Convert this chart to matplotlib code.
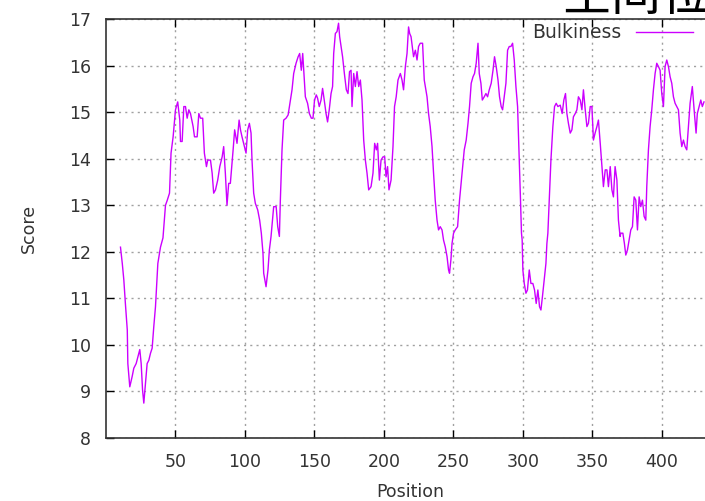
import matplotlib
matplotlib.use("Agg")
from matplotlib import pyplot as plt

plt.rcParams['font.family'] = ['DejaVu Sans', 'Noto Sans CJK SC']

# Bulkiness profile (position, score)
position = [10.4, 11.7, 12.8, 14.0, 15.3, 15.7, 17.1, 18.8, 20.0, 21.7,
            23.6, 24.3, 25.3, 26.3, 27.2, 28.4, 29.6, 30.8, 32.0, 33.2,
            34.4, 35.6, 37.3, 39.2, 41.0, 42.8, 44.0, 45.7, 46.8, 48.3,
            50.0, 51.6, 53.1, 53.6, 54.8, 56.0, 57.2, 58.4, 59.6, 60.8,
            62.7, 63.7, 65.6, 66.8, 68.0, 69.6, 70.8, 72.3, 73.2, 75.2,
            76.4, 77.5, 78.8, 80.4, 81.9, 83.6, 84.7, 85.9, 87.1, 88.3,
            89.5, 91.5, 92.6, 94.3, 95.8, 96.8, 97.9, 99.6, 100.8, 102.0,
            103.2, 104.4, 105.1, 106.3, 107.5, 109.2, 110.6, 111.8, 113.0, 113.5,
            115.2, 116.6, 117.6, 118.8, 120.7, 122.5, 123.6, 124.8, 125.5, 126.7,
            127.9, 129.6, 131.1, 132.2, 133.9, 135.1, 136.8, 138.3, 139.4, 140.6,
            141.6, 142.8, 143.5, 145.1, 146.4, 147.8, 149.0, 150.1, 151.4, 152.3,
            153.5, 154.8, 155.9, 157.1, 158.4, 159.5, 160.7, 162.0, 163.1, 163.9,
            165.1, 166.3, 167.4, 168.2, 169.2, 170.3, 171.6, 173.0, 174.2, 175.3,
            176.4, 177.1, 178.3, 179.5, 180.7, 181.9, 183.1, 184.3, 185.5, 186.7,
            187.9, 189.1, 190.8, 192.2, 193.4, 194.6, 195.5, 196.8, 198.0, 199.4,
            200.6, 201.6, 202.7, 203.7, 205.2, 206.6, 207.7, 208.9, 210.2, 211.9,
            213.1, 214.2, 215.5, 216.7, 217.8, 218.6, 219.6, 220.5, 221.4, 222.7,
            223.9, 225.0, 226.2, 227.9, 229.1, 231.1, 232.2, 233.4, 234.7, 235.8,
            237.0, 238.3, 239.4, 240.6, 241.9, 243.0, 244.2, 245.5, 246.6, 247.3,
            248.3, 249.1, 250.2, 251.4, 253.1, 254.5, 256.3, 257.9, 259.3, 260.6,
            261.7, 262.9, 264.2, 265.3, 266.5, 267.8, 268.7, 269.9, 270.9, 272.3,
            273.5, 274.7, 275.9, 277.3, 278.6, 279.7, 280.9, 282.2, 283.3, 284.5,
            285.5, 286.7, 287.9, 289.1, 290.3, 291.5, 292.7, 293.9, 295.1, 296.3,
            297.0, 297.7, 298.4, 299.1, 299.6, 300.1, 301.1, 302.3, 303.4, 304.7,
            305.9, 307.3, 308.5, 309.7, 310.9, 312.1, 313.1, 314.2, 315.4, 316.7,
            317.4, 318.1, 319.1, 320.3, 321.7, 322.9, 324.1, 325.3, 327.0, 328.4,
            329.6, 330.8, 331.8, 332.9, 334.2, 335.4, 336.5, 337.8, 339.0, 340.1,
            341.4, 342.6, 343.7, 345.0, 346.2, 347.3, 348.6, 349.8, 350.9, 352.1,
            353.4, 354.5, 355.8, 357.0, 358.1, 359.4, 360.6, 361.7, 363.0, 364.2,
            365.3, 366.5, 367.8, 368.9, 370.1, 370.6, 372.1, 373.2, 374.2, 375.4,
            376.6, 377.8, 379.0, 380.2, 381.4, 382.6, 383.8, 385.0, 386.2, 387.4,
            388.6, 389.3, 390.5, 391.7, 392.9, 394.1, 395.3, 396.5, 397.7, 398.9,
            400.1, 401.3, 402.5, 403.7, 404.9, 406.1, 407.3, 408.5, 409.7, 410.9,
            412.1, 413.3, 414.5, 415.7, 416.9, 418.1, 419.3, 420.5, 422.1, 423.4,
            424.8, 425.7, 427.0, 428.2, 429.3, 430.5]
score = [12.10, 11.75, 11.40, 10.86, 10.32, 9.60, 9.10, 9.32, 9.50, 9.60,
         9.82, 9.90, 9.60, 9.03, 8.75, 9.18, 9.60, 9.67, 9.82, 9.93,
         10.40, 10.82, 11.75, 12.10, 12.30, 13.00, 13.10, 13.26, 14.12, 14.47,
         15.05, 15.22, 14.83, 14.37, 14.37, 15.12, 15.12, 14.87, 15.05, 14.97,
         14.69, 14.47, 14.47, 14.97, 14.87, 14.87, 14.12, 13.83, 13.97, 13.97,
         13.69, 13.26, 13.33, 13.54, 13.83, 14.04, 14.26, 13.69, 13.00, 13.47,
         13.47, 14.19, 14.62, 14.33, 14.83, 14.62, 14.47, 14.26, 14.12, 14.62,
         14.76, 14.55, 13.97, 13.26, 13.04, 12.90, 12.68, 12.40, 11.97, 11.54,
         11.25, 11.61, 12.04, 12.33, 12.97, 12.97, 12.54, 12.33, 13.11, 14.19,
         14.83, 14.87, 14.94, 15.15, 15.48, 15.83, 16.05, 16.19, 16.26, 15.90,
         16.26, 15.69, 15.33, 15.19, 14.97, 14.87, 14.87, 15.26, 15.37, 15.30,
         15.12, 15.26, 15.51, 15.26, 14.97, 14.79, 15.05, 15.40, 15.55, 16.26,
         16.69, 16.73, 16.91, 16.62, 16.41, 16.19, 15.83, 15.48, 15.40, 15.87,
         15.90, 15.12, 15.83, 15.55, 15.87, 15.55, 15.69, 15.26, 14.40, 13.97,
         13.69, 13.33, 13.40, 13.69, 14.33, 14.19, 14.33, 13.54, 13.97, 14.04,
         14.04, 13.61, 13.83, 13.33, 13.54, 14.26, 15.12, 15.33, 15.69, 15.83,
         15.69, 15.48, 15.98, 16.26, 16.83, 16.69, 16.62, 16.41, 16.19, 16.33,
         16.12, 16.41, 16.48, 16.48, 15.69, 15.33, 14.97, 14.69, 14.26, 13.69,
         13.11, 12.68, 12.47, 12.54, 12.47, 12.25, 12.11, 11.90, 11.61, 11.54,
         11.83, 12.18, 12.40, 12.47, 12.54, 13.11, 13.69, 14.19, 14.40, 14.76,
         15.12, 15.62, 15.76, 15.83, 16.05, 16.48, 15.83, 15.62, 15.26, 15.33,
         15.40, 15.33, 15.48, 15.62, 15.90, 16.19, 15.98, 15.69, 15.33, 15.12,
         15.05, 15.33, 15.62, 16.33, 16.41, 16.41, 16.48, 16.12, 15.55, 15.12,
         14.47, 13.83, 13.11, 12.40, 12.25, 11.61, 11.32, 11.11, 11.18, 11.61,
         11.32, 11.32, 11.18, 10.89, 11.18, 10.82, 10.75, 11.04, 11.39, 11.75,
         12.18, 12.40, 13.11, 13.97, 14.69, 15.12, 15.19, 15.12, 15.15, 14.97,
         15.26, 15.40, 14.97, 14.76, 14.55, 14.62, 14.90, 14.97, 15.05, 15.33,
         15.26, 15.05, 15.48, 15.05, 14.69, 14.76, 15.12, 15.12, 14.40, 14.55,
         14.69, 14.83, 14.33, 13.83, 13.40, 13.76, 13.76, 13.40, 13.83, 13.33,
         13.18, 13.83, 13.54, 12.68, 12.33, 12.40, 12.40, 12.18, 11.93, 12.04,
         12.25, 12.47, 12.54, 13.18, 13.11, 12.47, 13.18, 12.97, 13.11, 12.76,
         12.68, 13.40, 14.19, 14.69, 15.05, 15.48, 15.83, 16.05, 15.98, 15.90,
         15.40, 15.12, 15.98, 16.12, 15.98, 15.76, 15.62, 15.33, 15.19, 15.12,
         15.05, 14.55, 14.26, 14.40, 14.26, 14.19, 14.69, 15.19, 15.55, 15.05,
         14.55, 14.97, 15.12, 15.26, 15.12, 15.22]

xticks = [50, 100, 150, 200, 250, 300, 350, 400]
yticks = [8, 9, 10, 11, 12, 13, 14, 15, 16, 17]

text_color = "#333333"

fig = plt.figure(figsize=(7.05, 5.01), dpi=100)
ax = fig.add_axes([0.1504, 0.1257, 0.8525, 0.8363])

ax.plot(position, score, color="#cc00ff", linewidth=1.0, label="Bulkiness")

ax.set_xlim(0, 432.7)
ax.set_ylim(8, 17)
ax.set_xticks(xticks)
ax.set_yticks(yticks)
ax.grid(True, color="#a0a0a0", linestyle=(0, (1.5, 3)), linewidth=1.0)
ax.tick_params(direction="in", length=6, width=1, top=True,
               labelsize=12.5, labelcolor=text_color, pad=11)
for side in ["left", "bottom", "top"]:
    ax.spines[side].set_color("#333333")
    ax.spines[side].set_linewidth(1.2)
ax.spines["right"].set_visible(False)

ax.set_xlabel("Position", fontsize=12.5, color=text_color)
ax.set_ylabel("Score", fontsize=12.5, color=text_color)
ax.xaxis.set_label_coords(0.506, -0.107)
ax.yaxis.set_label_coords(-0.113, 0.5)

ax.legend(loc="center right", bbox_to_anchor=(693 / 705, 1 - 33 / 501),
          bbox_transform=fig.transFigure, frameon=False, markerfirst=False,
          handlelength=3.05, handletextpad=0.75, borderpad=0,
          borderaxespad=0, fontsize=13.5, labelcolor=text_color)

# title sits mostly above the top of the picture
fig.text(561 / 705, 1 - 10 / 501, "空间位阻", fontsize=36,
         family=["Noto Sans CJK SC", "DejaVu Sans"], color="black",
         ha="left", va="baseline")

fig.savefig("out.png", dpi=100)
